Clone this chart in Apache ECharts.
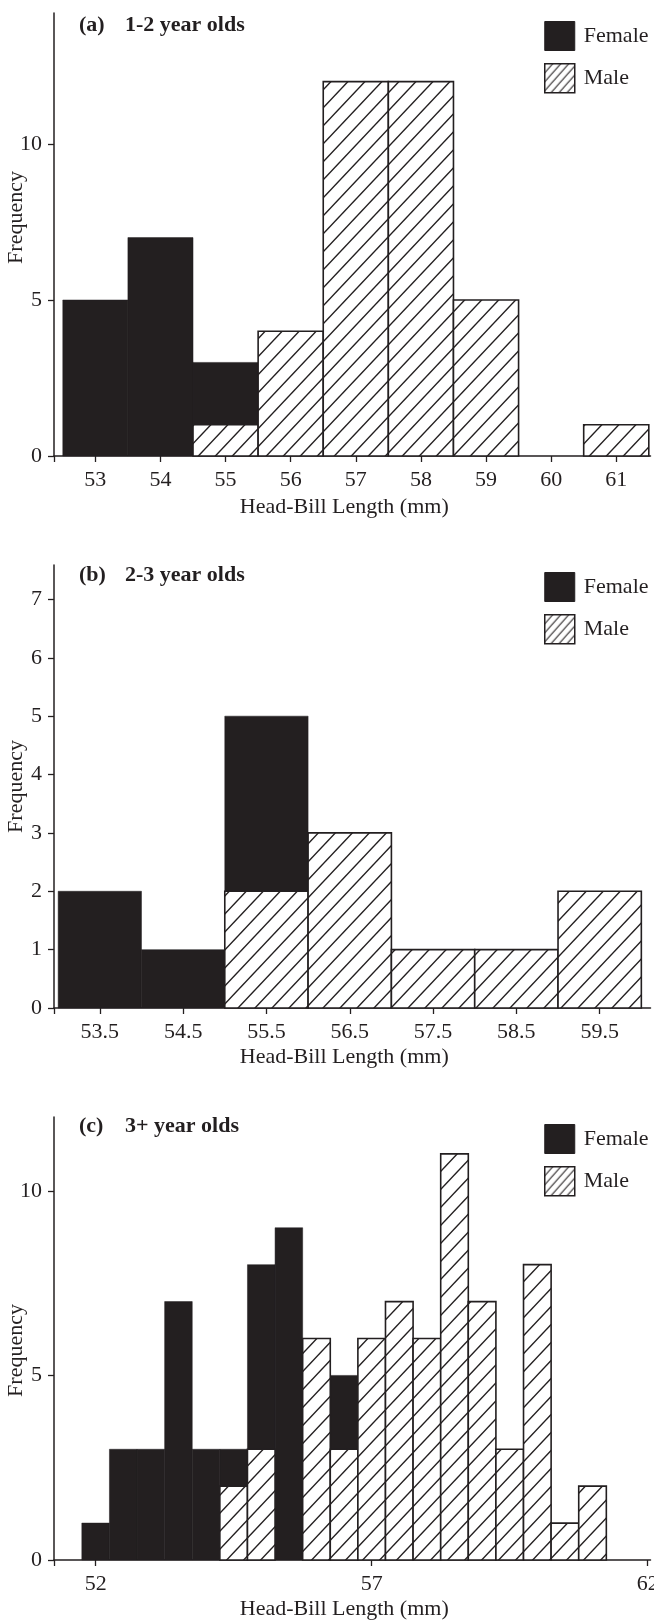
<!DOCTYPE html>
<html><head><meta charset="utf-8">
<script src="https://cdn.jsdelivr.net/npm/echarts@6/dist/echarts.min.js"></script>
<style>html,body{margin:0;padding:0;background:#fff}#c{width:654px;height:1620px}</style>
</head><body><div id="c"></div>
<script>
// ---------- DATA ----------
// Panel (a) 1-2 year olds (bin width 1 mm, bin centres)
const binsA   = [53, 54, 55, 56, 57, 58, 59, 60, 61];
const femaleA = [5, 7, 3, 0, 0, 0, 0, 0, 0];
const maleA   = [0, 0, 1, 4, 12, 12, 5, 0, 1];
const xTicksA = [53, 54, 55, 56, 57, 58, 59, 60, 61];
const yTicksA = [0, 5, 10];
const binWidthA = 1;

// Panel (b) 2-3 year olds (bin width 1 mm)
const binsB   = [53.5, 54.5, 55.5, 56.5, 57.5, 58.5, 59.5];
const femaleB = [2, 1, 5, 0, 0, 0, 0];
const maleB   = [0, 0, 2, 3, 1, 1, 2];
const xTicksB = [53.5, 54.5, 55.5, 56.5, 57.5, 58.5, 59.5];
const yTicksB = [0, 1, 2, 3, 4, 5, 6, 7];
const binWidthB = 1;

// Panel (c) 3+ year olds (bin width 0.5 mm)
const binsC   = [52, 52.5, 53, 53.5, 54, 54.5, 55, 55.5, 56, 56.5, 57, 57.5, 58, 58.5, 59, 59.5, 60, 60.5, 61];
const femaleC = [1, 3, 3, 7, 3, 3, 8, 9, 0, 5, 0, 0, 0, 0, 0, 0, 0, 0, 0];
const maleC   = [0, 0, 0, 0, 0, 2, 3, 0, 6, 3, 6, 7, 6, 11, 7, 3, 8, 1, 2];
const xTicksC = [52, 57, 62];
const yTicksC = [0, 5, 10];
const binWidthC = 0.5;

const panelTags   = ['(a)', '(b)', '(c)'];
const panelTitles = ['1-2 year olds', '2-3 year olds', '3+ year olds'];
const seriesNames = ['Female', 'Male'];
const xName = 'Head-Bill Length (mm)';
const yName = 'Frequency';

// ---------- STYLE ----------
const INK = '#231f20';
const FONT = '"Liberation Serif", "Times New Roman", serif';

function hatch(W, H, lw) {
  const c = document.createElement('canvas');
  c.width = W; c.height = H;
  const g = c.getContext('2d');
  g.fillStyle = '#fff'; g.fillRect(0, 0, W, H);
  g.strokeStyle = INK; g.lineWidth = lw;
  for (let n = 0; n <= 2; n++) {
    g.beginPath();
    g.moveTo(n * W + W, -H);
    g.lineTo(n * W - 2 * W, 2 * H);
    g.stroke();
  }
  return c;
}
const barHatch = { image: hatch(17, 18, 1.4), repeat: 'repeat' };
const legHatch = { image: hatch(8, 9, 1.1), repeat: 'repeat' };

function toRects(bins, counts, w) {
  const out = [];
  bins.forEach((c, i) => { if (counts[i] > 0) out.push([c - w / 2, c + w / 2, counts[i]]); });
  return out;
}

const panels = [
  { bins: binsA, f: femaleA, m: maleA, w: binWidthA, xt: xTicksA, yt: yTicksA,
    xmin: 52.365, xmax: 61.526, ymax: 14.2, top: 13, titleTop: 14, legTop: 21, nameGap: 40, yPad: 34 },
  { bins: binsB, f: femaleB, m: maleB, w: binWidthB, xt: xTicksB, yt: yTicksB,
    xmin: 52.95, xmax: 60.11, ymax: 7.59, top: 565, titleTop: 564, legTop: 572, nameGap: 38, yPad: 0 },
  { bins: binsC, f: femaleC, m: maleC, w: binWidthC, xt: xTicksC, yt: yTicksC,
    xmin: 51.246, xmax: 62.05, ymax: 12, top: 1117, titleTop: 1115, legTop: 1124, nameGap: 38, yPad: -24 }
];

const grids = [], xAxes = [], yAxes = [], series = [], titles = [], legends = [];
const textBase = { fontFamily: FONT, fontSize: 22, color: INK };

panels.forEach((p, i) => {
  grids.push({ left: 54, top: p.top, width: 596.5, height: 443, outerBoundsMode: 'none', containLabel: false });
  xAxes.push({
    gridIndex: i, type: 'value', min: p.xmin, max: p.xmax,
    axisLine: { show: true, onZero: false, lineStyle: { color: INK, width: 1.5 } },
    axisTick: { show: true, length: 6, lineStyle: { color: INK, width: 1.3 }, customValues: [p.xmin].concat(p.xt) },
    axisLabel: { customValues: p.xt, margin: 13, ...textBase },
    splitLine: { show: false },
    name: xName, nameLocation: 'middle', nameGap: p.nameGap, nameMoveOverlap: false,
    nameTextStyle: { ...textBase, padding: [0, 16, 0, 0] }
  });
  const yp = p.yPad;
  yAxes.push({
    gridIndex: i, type: 'value', min: 0, max: p.ymax,
    axisLine: { show: true, onZero: false, lineStyle: { color: INK, width: 1.5 } },
    axisTick: { show: true, length: 6, lineStyle: { color: INK, width: 1.3 }, customValues: p.yt },
    axisLabel: { customValues: p.yt, margin: 12, ...textBase },
    splitLine: { show: false },
    name: yName, nameLocation: 'middle', nameGap: 27, nameMoveOverlap: false,
    nameTextStyle: { ...textBase, padding: yp >= 0 ? [0, 0, 0, yp] : [0, -yp, 0, 0] }
  });
  series.push({
    name: seriesNames[0], type: 'custom', xAxisIndex: i, yAxisIndex: i,
    encode: { x: [0, 1], y: 2 },
    itemStyle: { color: INK },
    data: toRects(p.bins, p.f, p.w),
    renderItem: (params, api) => {
      const a = api.coord([api.value(0), api.value(2)]);
      const b = api.coord([api.value(1), 0]);
      return { type: 'rect', shape: { x: a[0], y: a[1], width: b[0] - a[0], height: b[1] - a[1] },
               style: { fill: INK, stroke: INK, lineWidth: 0.5 } };
    }
  });
  series.push({
    name: seriesNames[1], type: 'custom', xAxisIndex: i, yAxisIndex: i,
    encode: { x: [0, 1], y: 2 },
    itemStyle: { color: barHatch, borderColor: INK, borderWidth: 1.6 },
    data: toRects(p.bins, p.m, p.w),
    renderItem: (params, api) => {
      const a = api.coord([api.value(0), api.value(2)]);
      const b = api.coord([api.value(1), 0]);
      return { type: 'rect', shape: { x: a[0], y: a[1], width: b[0] - a[0], height: b[1] - a[1] },
               style: { fill: barHatch, stroke: INK, lineWidth: 1.6 } };
    }
  });
  titles.push({ text: panelTags[i], left: 79, top: p.titleTop, padding: 0,
    textStyle: { fontFamily: FONT, fontWeight: 'bold', fontSize: 22, color: INK } });
  titles.push({ text: panelTitles[i], left: 125, top: p.titleTop, padding: 0,
    textStyle: { fontFamily: FONT, fontWeight: 'bold', fontSize: 22, color: INK } });
  legends.push({
    left: 544, top: p.legTop, orient: 'vertical', padding: 0,
    itemWidth: 30, itemHeight: 29, itemGap: 12, icon: 'rect', selectedMode: false,
    textStyle: { ...textBase, padding: [0, 0, 0, 4] },
    data: [
      { name: seriesNames[0], itemStyle: { color: INK, borderColor: INK, borderWidth: 1 } },
      { name: seriesNames[1], itemStyle: { color: legHatch, borderColor: INK, borderWidth: 1.5 } }
    ]
  });
});

const chart = echarts.init(document.getElementById('c'), null, { renderer: 'canvas' });
chart.setOption({
  animation: false,
  backgroundColor: '#fff',
  title: titles,
  legend: legends,
  grid: grids,
  xAxis: xAxes,
  yAxis: yAxes,
  series: series
});
</script>
</body></html>
